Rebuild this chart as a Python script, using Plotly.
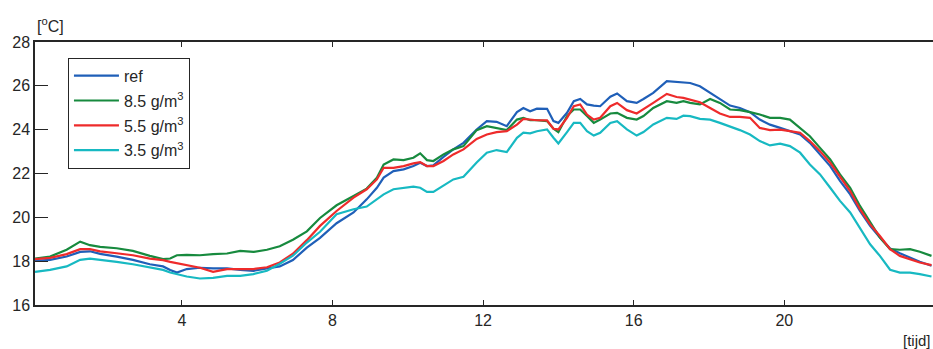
import plotly.graph_objects as go

t = [0.1, 0.5, 0.94, 1.3, 1.56, 1.83, 2.27, 2.7, 3.15, 3.5, 3.69, 3.87, 4.13, 4.48, 4.83,
     5.2, 5.55, 5.9, 6.26, 6.6, 6.95, 7.32, 7.67, 8.11, 8.56, 8.91, 9.18, 9.36, 9.62, 9.89,
     10.15, 10.33, 10.51, 10.68, 10.95, 11.21, 11.48, 11.83, 12.1, 12.36, 12.63, 12.9, 13.07,
     13.25, 13.43, 13.7, 13.87, 14.0, 14.23, 14.41, 14.58, 14.76, 14.94, 15.11, 15.38, 15.56,
     15.82, 16.08, 16.26, 16.52, 16.88, 17.14, 17.32, 17.5, 17.76, 18.03, 18.29, 18.56, 18.82,
     19.09, 19.35, 19.62, 19.89, 20.15, 20.42, 20.68, 20.95, 21.22, 21.48, 21.75, 22.01, 22.28,
     22.54, 22.81, 23.07, 23.34, 23.6, 23.91]

ref = [18.01, 18.06, 18.21, 18.42, 18.45, 18.33, 18.21, 18.06, 17.86, 17.76, 17.60, 17.48, 17.64,
       17.70, 17.67, 17.67, 17.60, 17.56, 17.67, 17.76, 18.05, 18.62, 19.06, 19.73, 20.22, 20.82,
       21.35, 21.81, 22.11, 22.19, 22.34, 22.49, 22.34, 22.37, 22.76, 23.10, 23.40, 24.01, 24.39,
       24.36, 24.16, 24.80, 24.99, 24.84, 24.96, 24.95, 24.39, 24.31, 24.77, 25.30, 25.40, 25.15,
       25.10, 25.07, 25.50, 25.65, 25.30, 25.22, 25.40, 25.68, 26.21, 26.18, 26.13, 26.13, 25.98,
       25.68, 25.37, 25.10, 24.99, 24.80, 24.46, 24.23, 24.08, 23.93, 23.78, 23.40, 22.87, 22.34,
       21.66, 21.05, 20.29, 19.61, 19.08, 18.58, 18.36, 18.17, 17.97, 17.79]

g85 = [18.12, 18.21, 18.52, 18.89, 18.73, 18.65, 18.59, 18.47, 18.24, 18.09, 18.12, 18.27, 18.29,
       18.27, 18.32, 18.35, 18.47, 18.42, 18.52, 18.68, 18.98, 19.36, 19.97, 20.55, 20.97, 21.31,
       21.81, 22.41, 22.64, 22.61, 22.72, 22.92, 22.61, 22.57, 22.87, 23.10, 23.25, 23.98, 24.16,
       24.08, 23.98, 24.46, 24.54, 24.43, 24.43, 24.39, 24.04, 23.89, 24.62, 24.92, 24.92, 24.62,
       24.31, 24.46, 24.74, 24.77, 24.54, 24.46, 24.62, 24.99, 25.30, 25.22, 25.30, 25.22, 25.15,
       25.40, 25.22, 24.92, 24.89, 24.80, 24.69, 24.54, 24.54, 24.46, 24.08, 23.70, 23.17, 22.64,
       21.96, 21.35, 20.52, 19.76, 19.08, 18.55, 18.52, 18.55, 18.43, 18.24]

g55 = [18.09, 18.15, 18.32, 18.55, 18.55, 18.45, 18.36, 18.27, 18.12, 18.05, 17.97, 17.91, 17.79,
       17.70, 17.51, 17.64, 17.64, 17.64, 17.72, 17.94, 18.34, 18.96, 19.61, 20.29, 20.90, 21.28,
       21.73, 22.26, 22.26, 22.34, 22.46, 22.52, 22.34, 22.34, 22.57, 22.87, 23.10, 23.58, 23.78,
       23.89, 23.93, 24.23, 24.49, 24.46, 24.43, 24.42, 24.04, 24.01, 24.54, 25.07, 25.15, 24.69,
       24.46, 24.54, 25.07, 25.22, 24.89, 24.74, 24.92, 25.22, 25.63, 25.49, 25.45, 25.37, 25.25,
       24.99, 24.74, 24.58, 24.58, 24.54, 24.08, 23.98, 24.00, 23.93, 23.86, 23.48, 23.02, 22.49,
       21.88, 21.20, 20.37, 19.68, 19.15, 18.55, 18.24, 18.09, 17.94, 17.82]

g35 = [17.51, 17.60, 17.76, 18.06, 18.12, 18.05, 17.97, 17.86, 17.71, 17.60, 17.48, 17.41, 17.30,
       17.21, 17.24, 17.33, 17.33, 17.41, 17.56, 17.88, 18.25, 18.85, 19.34, 20.14, 20.37, 20.49,
       20.82, 21.05, 21.28, 21.35, 21.40, 21.35, 21.16, 21.16, 21.46, 21.73, 21.85, 22.50, 22.95,
       23.07, 22.98, 23.63, 23.86, 23.83, 23.93, 24.01, 23.63, 23.37, 23.89, 24.31, 24.31, 23.93,
       23.73, 23.86, 24.31, 24.39, 24.01, 23.73, 23.89, 24.24, 24.54, 24.49, 24.64, 24.62, 24.49,
       24.46, 24.31, 24.16, 23.98, 23.78, 23.48, 23.28, 23.36, 23.25, 22.95, 22.41, 21.96, 21.35,
       20.75, 20.22, 19.53, 18.77, 18.24, 17.61, 17.48, 17.48, 17.41, 17.30]

names = ["ref", "8.5 g/m<sup>3</sup>", "5.5 g/m<sup>3</sup>", "3.5 g/m<sup>3</sup>"]
series = [ref, g85, g55, g35]
colors = ["#1f5fb8", "#178a3e", "#ee2b2b", "#17b9c2"]

x_ticks = [4, 8, 12, 16, 20]
y_ticks = [16, 18, 20, 22, 24, 26, 28]

fig = go.Figure()
for i, (nm, ys, c) in enumerate(zip(names, series, colors)):
    fig.add_trace(go.Scatter(x=t, y=ys, mode="lines", name=nm,
                             line=dict(color=c, width=2.2), legendgroup=str(i)))

axcol = "#262626"
fig.update_layout(
    width=933, height=349,
    margin=dict(l=35, r=0, t=42, b=44, autoexpand=False),
    paper_bgcolor="white", plot_bgcolor="white",
    font=dict(family="Liberation Sans, Arial, sans-serif", size=16, color=axcol),
    showlegend=True,
    legend=dict(x=0.0367, y=0.94, xanchor="left", yanchor="top",
                bordercolor=axcol, borderwidth=1, bgcolor="white",
                font=dict(size=16), tracegroupgap=1, itemwidth=45),
    xaxis=dict(range=[0.1, 23.95], tickvals=x_ticks, ticks="inside", ticklen=5,
               tickcolor=axcol, showline=True, linecolor=axcol, linewidth=1.5,
               mirror="ticks", showgrid=False, zeroline=False, automargin=False),
    yaxis=dict(range=[16, 28], tickvals=y_ticks, ticks="inside", ticklen=13,
               tickcolor=axcol, showline=True, linecolor=axcol, linewidth=1.5,
               mirror=True, showgrid=False, zeroline=False, automargin=False),
    annotations=[
        dict(text="[<sup>o</sup>C]", xref="paper", yref="paper", x=0, y=1,
             xanchor="left", yanchor="bottom", yshift=5, showarrow=False,
             font=dict(size=16, color=axcol)),
        dict(text="[tijd]", xref="paper", yref="paper", x=1, y=0,
             xanchor="right", yanchor="top", yshift=-25, showarrow=False,
             font=dict(size=15, color=axcol)),
    ],
)

fig.write_html("out.html", config={"displayModeBar": False},
               post_script="document.body.style.margin='0';document.body.style.overflow='hidden';")
